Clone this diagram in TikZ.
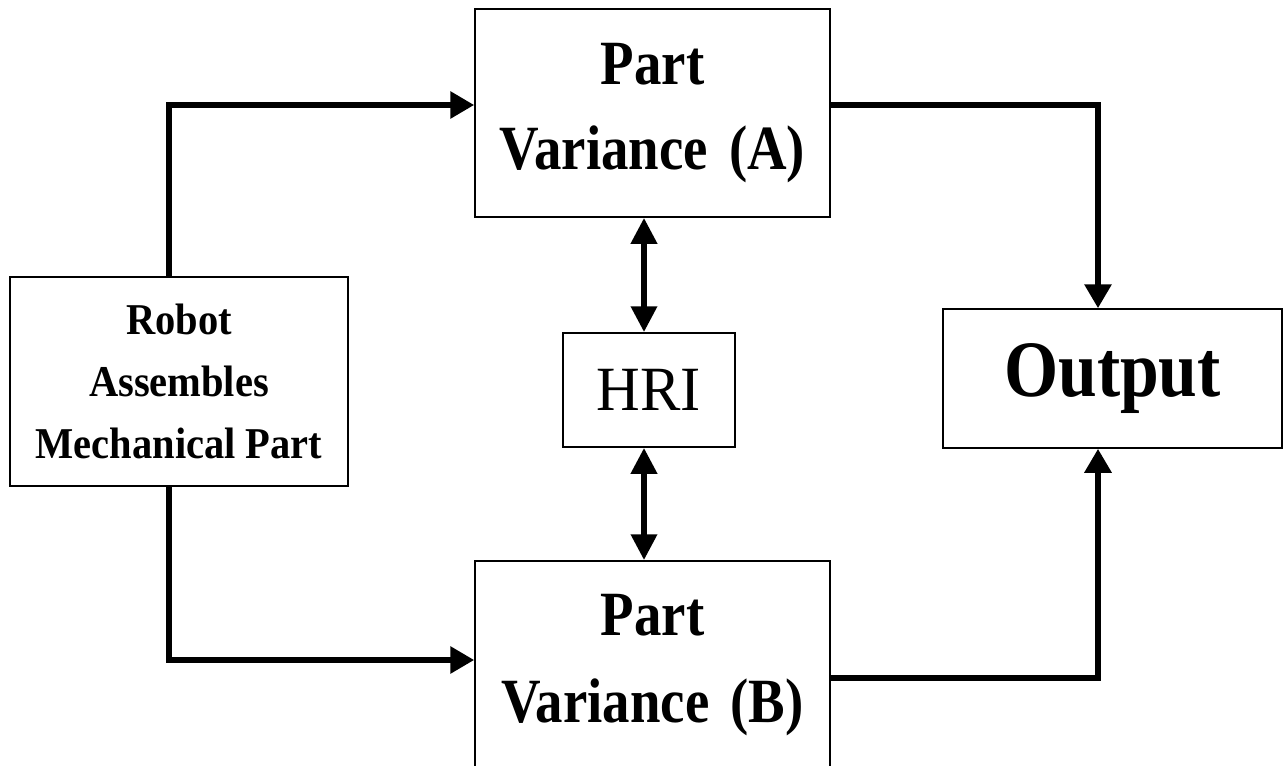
\documentclass[tikz,border=0pt]{standalone}
\usepackage{fontspec}
\setmainfont{Liberation Serif}
\newfontfamily\fpart[FakeStretch=0.87]{Liberation Serif}
\newfontfamily\frobot[FakeStretch=0.92]{Liberation Serif}
\newfontfamily\fhri[FakeStretch=0.96]{Liberation Serif}
\usetikzlibrary{arrows.meta}
\begin{document}
\begin{tikzpicture}[x=1pt,y=-1pt,
  box/.style={draw, line width=1.5pt, inner sep=0pt, align=center, fill=white},
  conn/.style={line width=6.5pt, -{Triangle[length=24pt,width=26pt]}},
  both/.style={line width=6.5pt, {Triangle[length=26pt,width=25pt]}-{Triangle[length=26pt,width=25pt]}}]
\useasboundingbox (0,0) rectangle (1286,766);
\fill[white] (0,0) rectangle (1286,766);
\node[box, minimum width=355pt, minimum height=208pt,
  font=\fpart\bfseries\fontsize{63}{85}\selectfont] (A) at (652.5,113) {Part\\Variance\hspace{0.12em} (A)};
\node[box, minimum width=355pt, minimum height=208pt,
  font=\fpart\bfseries\fontsize{63}{87}\selectfont] (B) at (652.5,665) {Part\\Variance\hspace{0.12em} (B)};
\node[box, minimum width=338pt, minimum height=209pt,
  font=\frobot\bfseries\fontsize{44}{62}\selectfont] (robot) at (179,381.5) {Robot\\Assembles\\Mechanical Part};
\node[box, minimum width=172pt, minimum height=114pt,
  font=\fhri\fontsize{63}{75}\selectfont] (hri) at (649,390) {HRI};
\node[box, minimum width=339pt, minimum height=139pt,
  font=\fpart\bfseries\fontsize{80}{90}\selectfont] (out) at (1112.5,378.5) {Output};
\coordinate (ax) at (644,0);
\draw[conn] ([xshift=-10pt]robot.north) |- ([yshift=8pt]A.west);
\draw[conn] ([xshift=-10pt]robot.south) |- ([yshift=5pt]B.west);
\draw[conn] ([yshift=8pt]A.east) -| ([xshift=-14.5pt]out.north);
\draw[conn] ([yshift=-13pt]B.east) -| ([xshift=-14.5pt]out.south);
\draw[both] (A.south -| ax) -- (hri.north -| ax);
\draw[both] (hri.south -| ax) -- (B.north -| ax);
\end{tikzpicture}
\end{document}
